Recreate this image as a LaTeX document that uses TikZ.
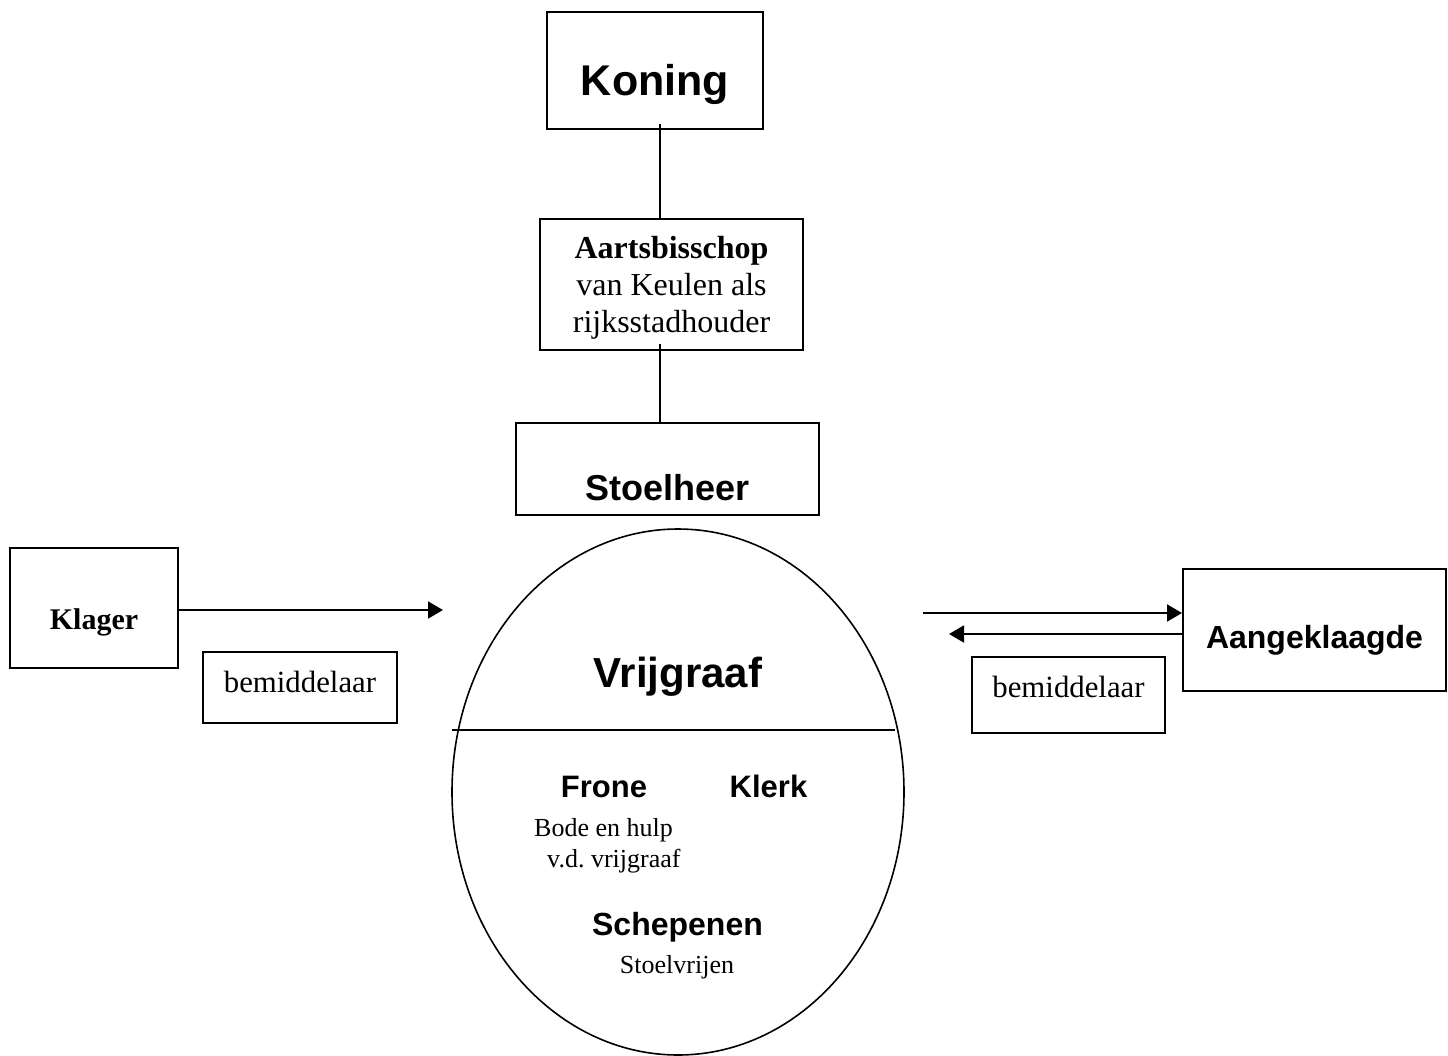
\documentclass[tikz,border=0pt]{standalone}
\usepackage{fontspec}
\setmainfont{Liberation Serif}
\setsansfont{Liberation Sans}
\usetikzlibrary{arrows.meta,shapes.geometric}
\begin{document}
\begin{tikzpicture}[x=0.5pt,y=-0.5pt,
    box/.style={draw=black, line width=1pt, inner sep=0pt, text depth=0pt},
    sanstext/.style={font={\sffamily\bfseries\fontsize{#1}{#1}\selectfont}},
    seriftext/.style={font={\fontsize{#1}{#1}\selectfont}},
    pijl/.style={line width=1pt, -{Triangle[length=7.5pt,width=8.5pt]}},
    lijn/.style={line width=0.8pt}]
    \useasboundingbox[fill=white] (0,0) rectangle (1448,1056);

    \node[box, minimum width=108pt, minimum height=58.5pt, text height=24.5pt, sanstext=21.5pt] (koning) at (655,70.5) {Koning};
    \node[box, minimum width=131.5pt, minimum height=65.5pt, align=center, font={\fontsize{16pt}{18.5pt}\selectfont}] (aarts) at (671.5,284.5) {\textbf{Aartsbisschop}\\van Keulen als\\rijksstadhouder};
    \node[box, minimum width=151.5pt, minimum height=46pt, text height=31pt, sanstext=18pt] (stoelheer) at (667.5,469) {Stoelheer};

    \node[box, minimum width=84pt, minimum height=60pt, text height=21pt, font={\bfseries\fontsize{15pt}{15pt}\selectfont}] (klager) at (94,608) {Klager};
    \node[box, minimum width=97pt, minimum height=35.5pt, text height=4.5pt, seriftext=15.4pt] (bemlinks) at (300,687.5) {bemiddelaar};
    \node[box, minimum width=131.5pt, minimum height=61pt, text height=18pt, sanstext=16pt] (aangeklaagde) at (1314.5,630) {Aangeklaagde};
    \node[box, minimum width=96.5pt, minimum height=38pt, text height=2pt, seriftext=15.4pt] (bemrechts) at (1068.5,695) {bemiddelaar};

    % de vrije stoel
    \node[shape=ellipse, draw=black, lijn, minimum width=226pt, minimum height=263pt, inner sep=0pt] (vrijstoel) at (678,792) {};
    \draw[lijn] (452,730) -- (895,730);
    \node[sanstext=21pt, anchor=base] (vrijgraaf) at (678,687) {Vrijgraaf};
    \node[sanstext=15.5pt, anchor=base] (frone) at (604,797) {Frone};
    \node[sanstext=15.5pt, anchor=base] (klerk) at (768.5,797) {Klerk};
    \node[align=center, font={\fontsize{13pt}{15.5pt}\selectfont}, anchor=north] (bode) at (603.5,811) {Bode en hulp\\\hspace*{0.8em}v.d.\ vrijgraaf};
    \node[sanstext=16pt, anchor=base] (schepenen) at (677.5,935) {Schepenen};
    \node[seriftext=13pt, anchor=base] (stoelvrijen) at (677,973) {Stoelvrijen};

    % verbindingen
    \coordinate (kon) at (660,124);
    \coordinate (aar) at (660,344);
    \draw[lijn] (kon) -- (kon |- aarts.north);
    \draw[lijn] (aar) -- (aar |- stoelheer.north);

    \coordinate (klagerin) at (443,610);
    \coordinate (aanuit) at (923,613);
    \coordinate (aanin) at (949,634);
    \draw[pijl] (klager.east |- klagerin) -- (klagerin);
    \draw[pijl] (aanuit) -- (aangeklaagde.west |- aanuit);
    \draw[pijl] (aangeklaagde.west |- aanin) -- (aanin);
\end{tikzpicture}
\end{document}
